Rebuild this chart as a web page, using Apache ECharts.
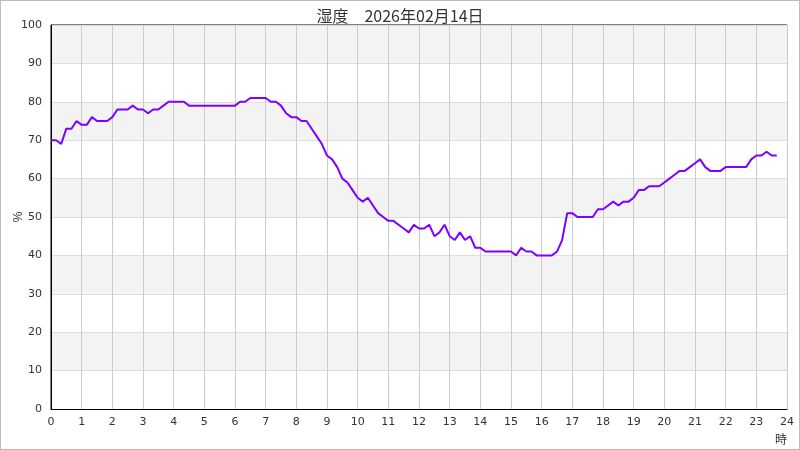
<!DOCTYPE html>
<html><head><meta charset="utf-8">
<script src="https://cdn.jsdelivr.net/npm/echarts@6/dist/echarts.min.js"></script>
<style>
html,body{margin:0;padding:0;background:#fff;}
#c{width:800px;height:450px;box-sizing:border-box;border:1px solid #bbb;}
</style></head><body>
<div id="c"></div>
<script>
const titleText = '湿度　2026年02月14日';
const times = [];
for (let h = 0; h < 24; h++) for (let m = 0; m < 60; m += 10) times.push(String(h).padStart(2,'0') + ':' + String(m).padStart(2,'0'));
const humidity = [
 70,70,69,73,73,75, 74,74,76,75,75,75, 76,78,78,78,79,78, 78,77,78,78,79,80,
 80,80,80,79,79,79, 79,79,79,79,79,79, 79,80,80,81,81,81, 81,80,80,79,77,76,
 76,75,75,73,71,69, 66,65,63,60,59,57, 55,54,55,53,51,50, 49,49,48,47,46,48,
 47,47,48,45,46,48, 45,44,46,44,45,42, 42,41,41,41,41,41, 41,40,42,41,41,40,
 40,40,40,41,44,51, 51,50,50,50,50,52, 52,53,54,53,54,54, 55,57,57,58,58,58,
 59,60,61,62,62,63, 64,65,63,62,62,62, 63,63,63,63,63,65, 66,66,67,66,66
];
const xTicks = {min: 0, max: 24, step: 1};
const yTicks = {min: 0, max: 100, step: 10};
const xName = '時';
const yName = '%';

const seriesData = humidity.map((v, i) => {
  const [h, m] = times[i].split(':').map(Number);
  return [h + m / 60, v];
});

const chart = echarts.init(document.getElementById('c'));
chart.setOption({
  animation: false,
  title: {text: titleText, left: 'center', top: 2,
    textStyle: {fontSize: 16, fontWeight: 'normal', color: '#333', fontFamily: 'Noto Sans CJK JP'}},
  grid: {left: 50, right: 12, top: 24, bottom: 40, show: true, borderColor: '#000', borderWidth: 1,
    backgroundColor: 'transparent', outerBoundsMode: 'none', containLabel: false},
  xAxis: {type: 'value', min: xTicks.min, max: xTicks.max, interval: xTicks.step,
    name: xName, nameLocation: 'end', nameGap: 0, nameMoveOverlap: false,
    nameTextStyle: {color: '#333', fontSize: 12, fontFamily: 'Noto Sans CJK JP', align: 'right', verticalAlign: 'top', padding: [24, 0, 0, 0]},
    axisLine: {lineStyle: {color: '#000'}}, axisTick: {show: false},
    axisLabel: {color: '#333', fontSize: 11, margin: 8, fontFamily: 'DejaVu Sans'},
    splitLine: {show: true, lineStyle: {color: '#ccc'}}},
  yAxis: {type: 'value', min: yTicks.min, max: yTicks.max, interval: yTicks.step,
    name: yName, nameLocation: 'middle', nameGap: 26, nameRotate: 90, nameMoveOverlap: false,
    nameTextStyle: {color: '#333', fontSize: 12},
    axisLine: {show: true, lineStyle: {color: '#000'}}, axisTick: {show: false},
    axisLabel: {color: '#333', fontSize: 11, margin: 9, fontFamily: 'DejaVu Sans'},
    splitLine: {show: true, lineStyle: {color: '#ddd'}},
    splitArea: {show: true, areaStyle: {color: ['#ffffff', '#f3f3f3']}}},
  series: [{type: 'line', data: seriesData, showSymbol: false, smooth: false,
    lineStyle: {color: '#8000ff', width: 2}, itemStyle: {color: '#8000ff'}}]
});
</script></body></html>
